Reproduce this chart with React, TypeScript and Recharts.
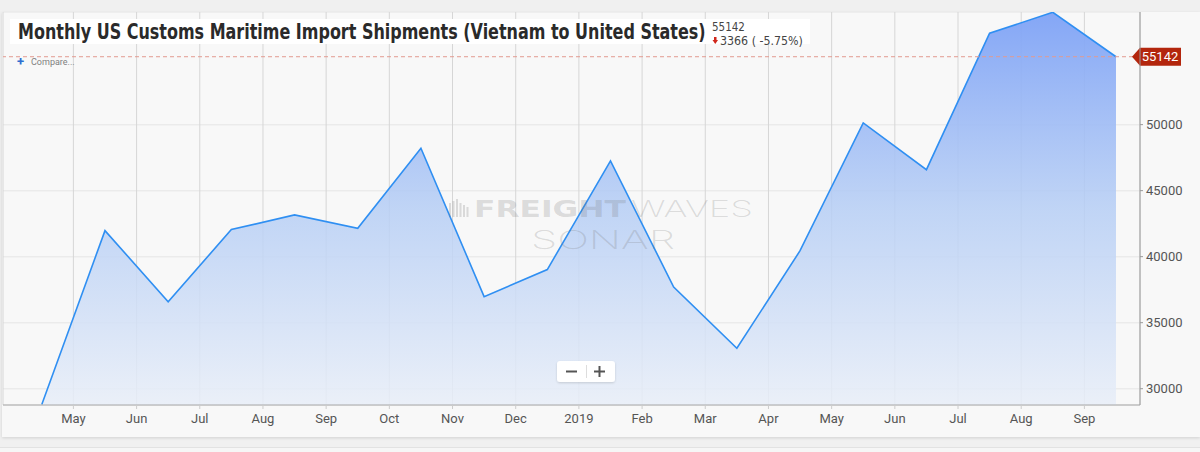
import React from 'react';
import { ComposedChart, Area, XAxis, YAxis, CartesianGrid, ReferenceLine } from 'recharts';

// Monthly observations (Apr 2018 .. Sep 2019)
const periods = [
  '2018-04', '2018-05', '2018-06', '2018-07', '2018-08', '2018-09', '2018-10', '2018-11', '2018-12',
  '2019-01', '2019-02', '2019-03', '2019-04', '2019-05', '2019-06', '2019-07', '2019-08', '2019-09',
];
const shipments = [
  28800, 41970, 36590, 42050, 43160, 42150, 48210, 36970, 39020,
  47250, 37700, 33060, 40450, 50130, 46590, 56920, 58508, 55142,
];
// x-axis month tick labels, starting at May 2018
const monthTickLabels = ['May', 'Jun', 'Jul', 'Aug', 'Sep', 'Oct', 'Nov', 'Dec', '2019', 'Feb', 'Mar', 'Apr', 'May', 'Jun', 'Jul', 'Aug', 'Sep'];
const yTicks = [30000, 35000, 40000, 45000, 50000];
const latestValue = 55142;
const changeValue = 3366;
const changePct = -5.75;
const chartTitle = 'Monthly US Customs Maritime Import Shipments (Vietnam to United States)';

const xDomain = [-1.114, 16.88];
const yDomain = [28765, 58530];

// month index relative to May 2018; observations sit mid-month
const data = periods.map((p, i) => ({ period: p, t: i - 0.5, value: shipments[i] }));
const xTicks = monthTickLabels.map((_, i) => i);

const measureCache: Record<string, number> = {};
function measure(text: string, font: string): number {
  const key = font + '|' + text;
  if (measureCache[key] !== undefined) return measureCache[key];
  let w = 0;
  try {
    const ctx = document.createElement('canvas').getContext('2d');
    if (ctx) {
      ctx.font = font;
      w = ctx.measureText(text).width;
    }
  } catch (e) {
    w = 0;
  }
  measureCache[key] = w;
  return w;
}

// Text stretched horizontally to a target width (keeps natural height)
const FitText = (props: {
  x: number; y: number; width: number; size: number; family: string; weight?: number; fill: string; children: string;
}) => {
  const weight = props.weight ?? 400;
  const natural = measure(props.children, `${weight} ${props.size}px ${props.family}`);
  const sx = natural > 0 ? props.width / natural : 1;
  return (
    <text
      transform={`translate(${props.x},${props.y}) scale(${sx},1)`}
      x={0}
      y={0}
      fill={props.fill}
      fontFamily={props.family}
      fontWeight={weight}
      fontSize={props.size}
    >
      {props.children}
    </text>
  );
};

const RightTag = (props: any) => {
  const vb = props.viewBox || {};
  const right = vb.x + vb.width;
  const y = vb.y;
  const h = 18;
  const path = `M ${right - 8} ${y} L ${right} ${y - h / 2} L ${right + 41} ${y - h / 2} L ${right + 41} ${y + h / 2} L ${right} ${y + h / 2} Z`;
  return (
    <g>
      <path d={path} fill="#b3260d" />
      <text x={right + 20} y={y + 4.5} textAnchor="middle" fill="#ffffff" fontSize={13} fontFamily="Roboto">
        {String(props.value)}
      </text>
    </g>
  );
};

const NARROW = "'Liberation Sans Narrow', 'DejaVu Sans Condensed', Roboto";

export default function App() {
  return (
    <div style={{ position: 'fixed', left: 0, top: 0, width: 1200, height: 452, background: '#f0f0f0', overflow: 'hidden' }}>
      <div style={{ position: 'absolute', left: 0, top: 447, width: 1200, height: 1, background: '#e2e2e2' }} />
      <div style={{ position: 'absolute', left: 0, top: 448, width: 1200, height: 4, background: '#f6f6f6' }} />
      <div style={{ position: 'absolute', left: 2, top: 12, width: 1198, height: 425, background: '#f8f8f8', boxShadow: '0 1px 3px rgba(0,0,0,0.13)' }} />
      <div style={{ position: 'absolute', left: 0, top: 0 }}>
        <ComposedChart
          width={1200}
          height={452}
          data={data}
          margin={{ top: 12, right: 0, bottom: 15, left: 3 }}
          style={{ fontFamily: 'Roboto' }}
        >
          <defs>
            <linearGradient id="areaFill" x1="0" y1="0" x2="0" y2="1">
              <stop offset="0%" stopColor="#7ea2f6" stopOpacity={0.95} />
              <stop offset="50%" stopColor="#b6cef5" stopOpacity={0.85} />
              <stop offset="100%" stopColor="#e8eef8" stopOpacity={0.85} />
            </linearGradient>
          </defs>
          <CartesianGrid horizontal={true} vertical={false} stroke="#ebebeb" strokeWidth={1.5} />
          <CartesianGrid horizontal={false} vertical={true} stroke="#d6d6d6" />
          <XAxis
            dataKey="t"
            type="number"
            domain={xDomain}
            allowDataOverflow
            ticks={xTicks}
            interval={0}
            tickFormatter={(v: number) => monthTickLabels[v] ?? ''}
            height={32}
            stroke="#a8a8a8"
            axisLine={{ stroke: '#a8a8a8' }}
            tickLine={{ stroke: '#cccccc' }}
            tickSize={4}
            tickMargin={5}
            tick={{ fill: '#555555', fontSize: 13 }}
          />
          <YAxis
            orientation="right"
            type="number"
            domain={yDomain}
            allowDataOverflow
            ticks={yTicks}
            interval={0}
            width={60}
            axisLine={{ stroke: '#9a9a9a' }}
            tickLine={{ stroke: '#9a9a9a' }}
            tickSize={3}
            tickMargin={3}
            tick={{ fill: '#555555', fontSize: 13, textAnchor: 'start' }}
          />
          <Area
            type="linear"
            dataKey="value"
            stroke="#2f8ff2"
            strokeWidth={1.6}
            fill="url(#areaFill)"
            fillOpacity={1}
            dot={false}
            activeDot={false}
            isAnimationActive={false}
          />
          <ReferenceLine
            y={latestValue}
            stroke="#e29a90"
            strokeDasharray="4 3"
            label={(p: any) => <RightTag viewBox={p.viewBox} value={latestValue} />}
          />
        </ComposedChart>
      </div>
      <svg width={1200} height={452} style={{ position: 'absolute', left: 0, top: 0, pointerEvents: 'none' }}>
        <defs>
          <filter id="zoomShadow" x="-20%" y="-30%" width="140%" height="160%">
            <feDropShadow dx="0" dy="1" stdDeviation="1" floodColor="#000" floodOpacity="0.15" />
          </filter>
        </defs>
        {/* watermark */}
        <g fill="rgba(120,120,120,0.24)">
          <rect x={449} y={203} width={2} height={14} />
          <rect x={452.5} y={201} width={2} height={16} />
          <rect x={456} y={199} width={2} height={18} />
          <rect x={459.5} y={203} width={2} height={14} />
          <rect x={463} y={205} width={2} height={12} />
          <rect x={466.5} y={207} width={2} height={10} />
        </g>
        <FitText x={474} y={217} width={152} size={23} family="'DejaVu Sans'" weight={700} fill="rgba(120,120,120,0.24)">FREIGHT</FitText>
        <FitText x={631} y={217} width={122} size={23} family="Inter" weight={200} fill="rgba(120,120,120,0.24)">WAVES</FitText>
        <FitText x={531} y={249} width={144} size={26} family="Inter" weight={200} fill="rgba(120,120,120,0.24)">SONAR</FitText>
        {/* title */}
        <rect x={10} y={19} width={800} height={25} fill="#ffffff" />
        <FitText x={18} y={39} width={688} size={22} family={NARROW} weight={700} fill="#2a2a2a">{chartTitle}</FitText>
        <FitText x={712} y={31} width={33} size={12} family={NARROW} fill="#444444">{String(latestValue)}</FitText>
        <path d="M 714 37 L 716.5 37 L 716.5 40 L 718 40 L 715.25 44 L 712.5 40 L 714 40 Z" fill="#d0261b" />
        <FitText x={720} y={45} width={83} size={12} family={NARROW} fill="#444444">{`${changeValue} ( ${changePct.toFixed(2)}%)`}</FitText>
        {/* compare */}
        <text x={17} y={66} fill="#2f6fd0" fontFamily="Roboto" fontWeight={700} fontSize={13}>+</text>
        <text x={31} y={65} fill="#808080" fontFamily="Roboto" fontSize={9}>Compare...</text>
        {/* zoom control */}
        <rect x={557} y={361} width={58} height={21} rx={3} fill="#ffffff" filter="url(#zoomShadow)" />
        <line x1={566} y1={371.5} x2={577} y2={371.5} stroke="#555" strokeWidth={2} />
        <line x1={586.5} y1={365} x2={586.5} y2={378} stroke="#dddddd" strokeWidth={1} />
        <line x1={594} y1={371.5} x2={605} y2={371.5} stroke="#555" strokeWidth={2} />
        <line x1={599.5} y1={366} x2={599.5} y2={377} stroke="#555" strokeWidth={2} />
      </svg>
    </div>
  );
}
